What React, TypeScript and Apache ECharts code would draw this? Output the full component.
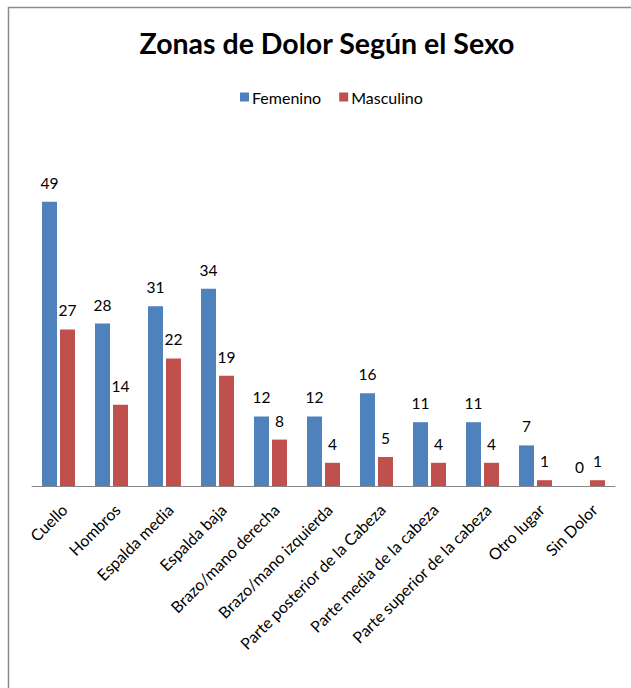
import React, { useEffect, useRef } from "react";
import * as echarts from "echarts";

const categories = [
  "Cuello",
  "Hombros",
  "Espalda media",
  "Espalda baja",
  "Brazo/mano derecha",
  "Brazo/mano izquierda",
  "Parte posterior de la Cabeza",
  "Parte media de la cabeza",
  "Parte superior de la cabeza",
  "Otro lugar",
  "Sin Dolor",
];
const femenino = [49, 28, 31, 34, 12, 12, 16, 11, 11, 7, 0];
const masculino = [27, 14, 22, 19, 8, 4, 5, 4, 4, 1, 1];

const FONT = "Lato, 'Open Sans', sans-serif";

export default function App() {
  const ref = useRef<HTMLDivElement>(null);
  useEffect(() => {
    if (!ref.current) return;
    const chart = echarts.init(ref.current, null, { renderer: "svg" });
    chart.setOption({
      animation: false,
      backgroundColor: "#ffffff",
      title: {
        text: "Zonas de Dolor Según el Sexo",
        left: 322,
        textAlign: "center",
        top: 23,
        textStyle: { fontFamily: FONT, fontSize: 28.5, fontWeight: "bold", color: "#000" },
      },
      legend: {
        top: 84,
        left: 235,
        itemWidth: 9,
        itemHeight: 9,
        itemGap: 18,
        icon: "rect",
        textStyle: { fontFamily: FONT, fontSize: 16, color: "#000", padding: [0, 0, 0, -2] },
        data: ["Femenino", "Masculino"],
      },
      graphic: [
        {
          type: "rect",
          shape: { x: 8.5, y: 7.5, width: 640, height: 700 },
          style: { fill: "none", stroke: "#8c8c8c", lineWidth: 1.5 },
          silent: true,
        },
      ],
      grid: { left: 32, right: 16, top: 138, bottom: 202 },
      xAxis: {
        type: "category",
        data: categories,
        axisLine: { lineStyle: { color: "#868686" } },
        axisTick: { show: false },
        axisLabel: {
          rotate: 45,
          interval: 0,
          margin: 15,
          verticalAlign: "top",
          fontFamily: FONT,
          fontSize: 16,
          color: "#000",
        },
      },
      yAxis: {
        type: "value",
        min: 0,
        max: 60,
        show: false,
        splitLine: { show: false },
      },
      series: [
        {
          name: "Femenino",
          type: "bar",
          data: femenino,
          barWidth: 15,
          barGap: "20%",
          itemStyle: { color: "#4F81BD" },
          label: {
            show: true,
            position: "top",
            distance: 11,
            fontFamily: FONT,
            fontSize: 15.5,
            color: "#000",
          },
        },
        {
          name: "Masculino",
          type: "bar",
          data: masculino,
          barWidth: 15,
          itemStyle: { color: "#C0504D" },
          label: {
            show: true,
            position: "top",
            distance: 11,
            fontFamily: FONT,
            fontSize: 15.5,
            color: "#000",
          },
        },
      ],
    });
    return () => chart.dispose();
  }, []);
  return (
    <div
      ref={ref}
      style={{ position: "fixed", left: 0, top: 0, width: 631, height: 688 }}
    />
  );
}
